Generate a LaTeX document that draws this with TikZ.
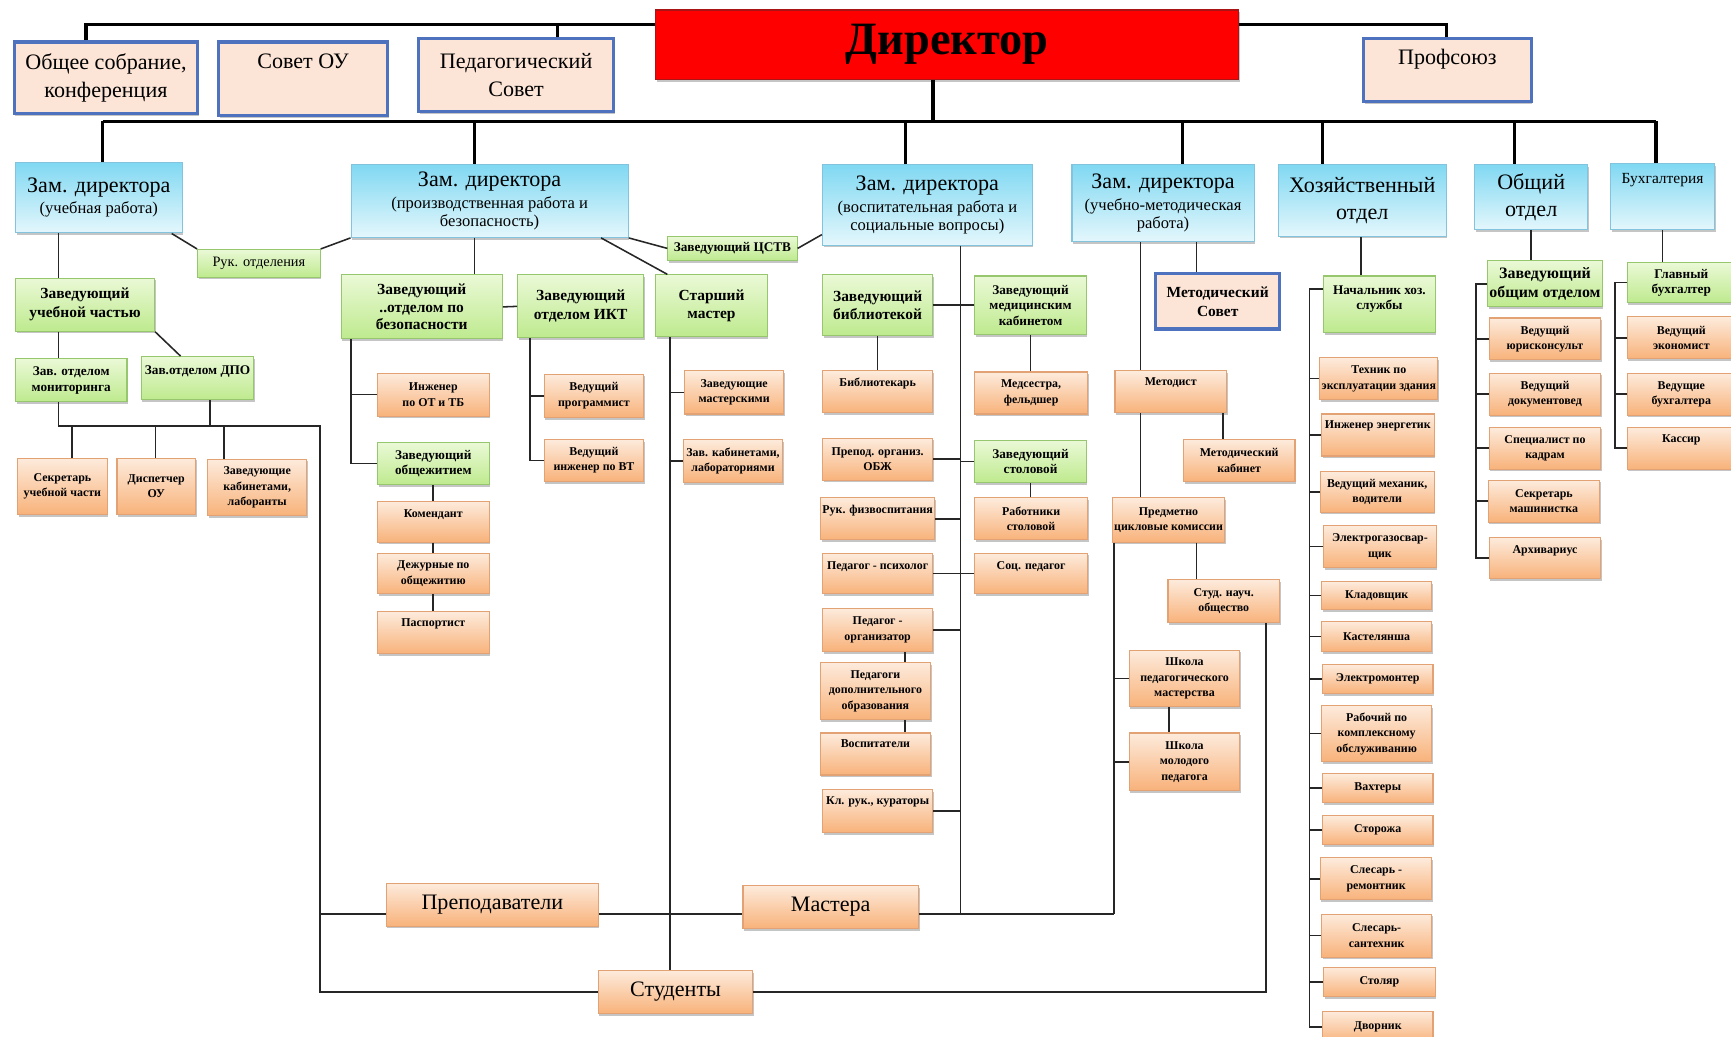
\documentclass[tikz,border=0pt]{standalone}
\usepackage{fontspec}
\setmainfont{Liberation Serif}
\usetikzlibrary{shadows}

\definecolor{peach}{RGB}{252,228,214}
\definecolor{frameblue}{RGB}{79,114,190}
\definecolor{darkred}{RGB}{170,20,20}
\definecolor{bluetop}{RGB}{128,216,242}
\definecolor{bluebot}{RGB}{228,247,252}
\definecolor{blueedge}{RGB}{130,196,222}
\definecolor{greentop}{RGB}{234,249,214}
\definecolor{greenbot}{RGB}{190,234,142}
\definecolor{greenedge}{RGB}{150,198,110}
\definecolor{orangetop}{RGB}{253,235,220}
\definecolor{orangebot}{RGB}{248,178,122}
\definecolor{orangeedge}{RGB}{226,162,116}

\tikzset{
  orgnode/.style={rectangle, align=center, inner sep=0.8pt,
    drop shadow={opacity=0.45, shadow xshift=0.5pt, shadow yshift=-1pt}},
  peachbox/.style={orgnode, fill=peach, draw=frameblue, line width=1.4pt,
    font=\fontsize{10}{12.5}\selectfont},
  redbox/.style={orgnode, fill=red, draw=darkred, line width=0.6pt,
    font=\fontsize{21}{24}\selectfont\bfseries},
  bluebox/.style={orgnode, top color=bluetop, bottom color=bluebot, draw=blueedge,
    line width=0.5pt, font=\fontsize{7.5}{8.2}\selectfont},
  greenbox/.style={orgnode, top color=greentop, bottom color=greenbot, draw=greenedge,
    line width=0.5pt, font=\fontsize{6}{7}\selectfont\bfseries},
  greenbig/.style={greenbox, font=\fontsize{7}{8.5}\selectfont\bfseries},
  orangebox/.style={orgnode, top color=orangetop, bottom color=orangebot, draw=orangeedge,
    line width=0.5pt, font=\fontsize{5.4}{7}\selectfont\bfseries},
  orangebig/.style={orangebox, font=\fontsize{10}{12}\selectfont},
  lift/.style={text depth=#1},
  busline/.style={line width=1.5pt, black},
  link/.style={line width=0.7pt, black!85},
}

\newcommand{\orgbox}[7]{%
  \pgfmathsetmacro{\bcx}{(#3+#5)/2}%
  \pgfmathsetmacro{\bcy}{(#4+#6)/2}%
  \pgfmathsetmacro{\bwd}{(#5-#3)/2}%
  \pgfmathsetmacro{\bht}{(#6-#4)/2}%
  \node[#2, minimum width=\bwd pt, minimum height=\bht pt] (#1) at (\bcx,\bcy) {#7};%
}
\newcommand{\zamtitle}{{\fontsize{10}{12}\selectfont Зам. директора}\\[1.5pt]}

\begin{document}
\begin{tikzpicture}[x=0.5pt,y=-0.5pt]
\fill[white] (0,0) rectangle (1568,939);
\useasboundingbox (0,0) rectangle (1568,939);

\orgbox{sobr}{peachbox}{13}{38}{179}{103}{Общее собрание,\\конференция}
\orgbox{sovet}{peachbox, lift=16pt}{198}{38}{351}{105}{Совет ОУ}
\orgbox{pedsov}{peachbox}{379}{35}{556}{101}{Педагогический\\Совет}
\orgbox{dir}{redbox}{594}{9}{1122}{72}{Директор}
\orgbox{prof}{peachbox, lift=12pt}{1235}{35}{1387}{92}{Профсоюз}

\orgbox{zamU}{bluebox}{14}{147}{165}{211}{\zamtitle(учебная работа)}
\orgbox{zamP}{bluebox}{318}{149}{569}{215}{\zamtitle(производственная работа и\\безопасность)}
\orgbox{zamV}{bluebox}{745}{149}{935}{222}{\zamtitle(воспитательная работа и\\социальные вопросы)}
\orgbox{zamM}{bluebox}{971}{149}{1136}{219}{\zamtitle(учебно-методическая\\работа)}
\orgbox{hoz}{bluebox, font=\fontsize{10}{12.5}\selectfont}{1158}{149}{1310}{214}{Хозяйственный\\отдел}
\orgbox{obsh}{bluebox, font=\fontsize{10}{12.5}\selectfont}{1336}{149}{1438}{208}{Общий\\отдел}
\orgbox{buh}{bluebox, font=\fontsize{7}{8}\selectfont, lift=16pt}{1459}{148}{1553}{208}{Бухгалтерия}

\orgbox{ruk}{greenbox, font=\fontsize{6.5}{7.5}\selectfont}{179}{226}{290}{251}{Рук. отделения}
\orgbox{cstv}{greenbox}{605}{214}{722}{236}{Заведующий ЦСТВ}
\orgbox{uchch}{greenbig}{14}{252}{140}{300}{Заведующий\\учебной частью}
\orgbox{mon}{greenbox}{14}{325}{115}{364}{Зав. отделом\\мониторинга}
\orgbox{dpo}{greenbox, lift=7pt}{128}{323}{230}{362}{Зав.отделом ДПО}
\orgbox{bez}{greenbig, font=\fontsize{7}{8}\selectfont\bfseries}{309}{249}{455}{307}{Заведующий\\..отделом по\\безопасности}
\orgbox{ikt}{greenbig}{469}{249}{583}{306}{Заведующий\\отделом ИКТ}
\orgbox{stm}{greenbig}{594}{249}{695}{305}{Старший\\мастер}
\orgbox{obzh}{greenbox}{342}{401}{443}{439}{Заведующий\\общежитием}
\orgbox{bib}{greenbig}{745}{249}{845}{304}{Заведующий\\библиотекой}
\orgbox{med}{greenbox}{883}{250}{984}{303}{Заведующий\\медицинским\\кабинетом}
\orgbox{stol}{greenbox}{883}{399}{984}{437}{Заведующий\\столовой}
\orgbox{metsov}{peachbox, font=\fontsize{7}{8.5}\selectfont\bfseries}{1047}{248}{1159}{298}{Методический\\Совет}
\orgbox{nach}{greenbox, lift=6pt}{1199}{250}{1300}{301}{Начальник хоз.\\службы}
\orgbox{zavob}{greenbig, font=\fontsize{7.2}{8.5}\selectfont\bfseries}{1349}{236}{1450}{278}{Заведующий\\общим отделом}
\orgbox{glb}{greenbox}{1474}{238}{1572}{274}{Главный\\бухгалтер}

\orgbox{sekr}{orangebox}{16}{415}{97}{466}{Секретарь\\учебной части}
\orgbox{disp}{orangebox}{106}{415}{177}{466}{Диспетчер\\ОУ}
\orgbox{zavkab}{orangebox}{188}{416}{278}{467}{Заведующие\\кабинетами,\\лаборанты}
\orgbox{ingOT}{orangebox}{342}{338}{443}{377}{Инженер\\по ОТ и ТБ}
\orgbox{kom}{orangebox, lift=7pt}{342}{454}{443}{491}{Комендант}
\orgbox{dezh}{orangebox}{342}{501}{443}{538}{Дежурные по\\общежитию}
\orgbox{pasp}{orangebox, lift=9pt}{342}{554}{443}{592}{Паспортист}
\orgbox{prog}{orangebox}{493}{339}{583}{378}{Ведущий\\программист}
\orgbox{ingVT}{orangebox}{493}{398}{583}{436}{Ведущий\\инженер по ВТ}
\orgbox{mastm}{orangebox}{620}{336}{710}{375}{Заведующие\\мастерскими}
\orgbox{kablab}{orangebox}{619}{398}{709}{437}{Зав. кабинетами,\\лабораториями}
\orgbox{bibl}{orangebox, lift=9pt}{745}{336}{845}{374}{Библиотекарь}
\orgbox{medses}{orangebox}{883}{337}{985}{375}{Медсестра,\\фельдшер}
\orgbox{obzhP}{orangebox}{745}{397}{845}{435}{Препод. организ.\\ОБЖ}
\orgbox{fiz}{orangebox, lift=9pt}{745}{451}{845}{489}{Рук. физвоспитания}
\orgbox{rabst}{orangebox}{883}{451}{985}{489}{Работники\\столовой}
\orgbox{psih}{orangebox, lift=7pt}{745}{501}{845}{538}{Педагог - психолог}
\orgbox{soc}{orangebox, lift=7pt}{883}{501}{985}{538}{Соц. педагог}
\orgbox{porg}{orangebox}{745}{551}{845}{590}{Педагог -\\организатор}
\orgbox{pdo}{orangebox}{743}{600}{843}{652}{Педагоги\\дополнительного\\образования}
\orgbox{vosp}{orangebox, lift=9pt}{743}{664}{843}{702}{Воспитатели}
\orgbox{klr}{orangebox, lift=9pt}{745}{715}{845}{754}{Кл. рук., кураторы}
\orgbox{metod}{orangebox, lift=9pt}{1010}{336}{1111}{374}{Методист}
\orgbox{metkab}{orangebox}{1072}{398}{1173}{436}{Методический\\кабинет}
\orgbox{pck}{orangebox}{1008}{451}{1109}{491}{Предметно\\цикловые комиссии}
\orgbox{snoo}{orangebox}{1058}{525}{1159}{564}{Студ. науч.\\общество}
\orgbox{shpm}{orangebox}{1023}{589}{1123}{640}{Школа\\педагогического\\мастерства}
\orgbox{shmp}{orangebox}{1023}{664}{1123}{716}{Школа\\молодого\\педагога}

\orgbox{teh}{orangebox}{1197}{324}{1301}{362}{Техник по\\эксплуатации здания}
\orgbox{energ}{orangebox, lift=9pt}{1197}{375}{1299}{413}{Инженер энергетик}
\orgbox{meh}{orangebox}{1196}{427}{1299}{464}{Ведущий механик,\\водители}
\orgbox{svar}{orangebox}{1199}{476}{1301}{514}{Электрогазосвар-\\щик}
\orgbox{klad}{orangebox}{1197}{527}{1297}{552}{Кладовщик}
\orgbox{kast}{orangebox}{1197}{563}{1297}{590}{Кастелянша}
\orgbox{emont}{orangebox}{1198}{602}{1298}{628}{Электромонтер}
\orgbox{rko}{orangebox}{1197}{639}{1297}{690}{Рабочий по\\комплексному\\обслуживанию}
\orgbox{vaht}{orangebox}{1198}{701}{1298}{727}{Вахтеры}
\orgbox{stor}{orangebox}{1198}{739}{1298}{765}{Сторожа}
\orgbox{slr}{orangebox}{1196}{777}{1297}{815}{Слесарь -\\ремонтник}
\orgbox{sls}{orangebox}{1197}{828}{1297}{867}{Слесарь-\\сантехник}
\orgbox{stolar}{orangebox}{1199}{876}{1300}{903}{Столяр}
\orgbox{dvor}{orangebox}{1198}{916}{1298}{945}{Дворник}

\orgbox{yur}{orangebox}{1349}{288}{1450}{326}{Ведущий\\юрисконсульт}
\orgbox{doc}{orangebox}{1349}{338}{1450}{376}{Ведущий\\документовед}
\orgbox{kadr}{orangebox}{1349}{387}{1450}{425}{Специалист по\\кадрам}
\orgbox{mash}{orangebox}{1348}{435}{1449}{473}{Секретарь\\машинистка}
\orgbox{arh}{orangebox, lift=8pt}{1349}{487}{1450}{524}{Архивариус}
\orgbox{econ}{orangebox}{1474}{287}{1572}{325}{Ведущий\\экономист}
\orgbox{vbuh}{orangebox}{1474}{338}{1572}{376}{Ведущие\\бухгалтера}
\orgbox{kass}{orangebox, lift=9pt}{1474}{387}{1572}{425}{Кассир}

\orgbox{prep}{orangebig}{350}{800}{542}{839}{Преподаватели}
\orgbox{mast}{orangebig}{673}{802}{832}{841}{Мастера}
\orgbox{stud}{orangebig}{542}{879}{682}{918}{Студенты}

\coordinate (bus1) at (0,22);
\coordinate (bus2) at (0,110);
\coordinate (busU) at (0,386);
\coordinate (busPM) at (0,828);
\coordinate (tSobr) at (78,0);
\coordinate (tPed) at (505,0);
\coordinate (tProf) at (1310,0);
\coordinate (tDir) at (845,0);

\draw[busline] (sobr.north -| tSobr) -- (tSobr |- bus1) -- (dir.west |- bus1);
\draw[busline] (pedsov.north -| tPed) -- (tPed |- bus1);
\draw[busline] (dir.east |- bus1) -- (tProf |- bus1) -- (prof.north -| tProf);
\draw[busline] (dir.south -| tDir) -- (tDir |- bus2);
\draw[busline] (93,110) coordinate (b2L) -- (1500,110) coordinate (b2R);
\foreach \nd/\xx in {zamU/93,zamP/430,zamV/820,zamM/1071,hoz/1198,obsh/1372,buh/1500}
{
    \coordinate (drop) at (\xx,110);
    \draw[busline] (drop) -- (drop |- \nd.north);
}

\draw[link] ([xshift=-5pt]zamU.south east) -- (ruk.north west);
\draw[link] (ruk.north east) -- (zamP.south west);
\draw[link] (zamP.south east) -- (cstv.west);
\draw[link] (cstv.east) -- ([yshift=5pt]zamV.south west);
\draw[link] ([xshift=-12.5pt]zamP.south east) -- ([xshift=5.5pt]stm.north west);

\coordinate (tU) at (53,0);
\coordinate (tD) at (190,0);
\coordinate (tL) at (290,0);
\draw[link] (zamU.south -| tU) -- (uchch.north -| tU);
\draw[link] (uchch.south -| tU) -- (mon.north -| tU);
\draw[link] (uchch.south east) -- ([xshift=18pt]dpo.north west);
\draw[link] (mon.south -| tU) -- (tU |- busU) -- (tL |- busU) -- (tL |- stud.west) -- (stud.west);
\draw[link] (dpo.south -| tD) -- (tD |- busU);
\foreach \nd/\xx in {sekr/65,disp/141,zavkab/203}
{
    \coordinate (drop) at (\xx,386);
    \draw[link] (drop) -- (drop |- \nd.north);
}
\draw[link] (tL |- busPM) -- (busPM -| prep.west);
\draw[link] (busPM -| prep.east) -- (busPM -| mast.west);

\coordinate (tP) at (430,0);
\coordinate (tB) at (318,0);
\coordinate (tO) at (392,0);
\coordinate (tI) at (480,0);
\coordinate (tS) at (607,0);
\draw[link] (zamP.south -| tP) -- (bez.north -| tP);
\draw[link] (bez.east) -- (ikt.west);
\draw[link] (bez.south -| tB) -- (tB |- obzh.west) -- (obzh.west);
\draw[link] (tB |- ingOT.west) -- (ingOT.west);
\draw[link] (obzh.south -| tO) -- (kom.north -| tO);
\draw[link] (kom.south -| tO) -- (dezh.north -| tO);
\draw[link] (dezh.south -| tO) -- (pasp.north -| tO);
\draw[link] (ikt.south -| tI) -- (tI |- ingVT.west) -- (ingVT.west);
\draw[link] (tI |- prog.west) -- (prog.west);
\draw[link] (stm.south -| tS) -- (tS |- stud.north);
\draw[link] (tS |- mastm.west) -- (mastm.west);
\draw[link] (tS |- kablab.west) -- (kablab.west);

\coordinate (tV) at (870,0);
\coordinate (tW) at (820,0);
\draw[link] (zamV.south -| tV) -- (tV |- busPM);
\draw[link] (busPM -| mast.east) -- (1009,828) coordinate (tM);
\draw[link] (bib.east) -- (med.west);
\draw[link] (bib.south) -- (bibl.north);
\draw[link] (med.south) -- (medses.north -| med.south);
\foreach \nd in {obzhP,fiz,porg,klr}
{
    \draw[link] (\nd.east) -- (tV |- \nd.east);
}
\draw[link] (tV |- stol.west) -- (stol.west);
\draw[link] (stol.south) -- (rabst.north -| stol.south);
\draw[link] (psih.east) -- (soc.west);
\draw[link] (porg.south -| tW) -- (pdo.north -| tW);
\draw[link] (pdo.south -| tW) -- (vosp.north -| tW);

\coordinate (tM1) at (1033,0);
\coordinate (tM2) at (1084,0);
\coordinate (tK) at (1108,0);
\coordinate (tX) at (1059,0);
\coordinate (tN) at (1147,0);
\draw[link] (zamM.south -| tM2) -- (metsov.north -| tM2);
\draw[link] (zamM.south -| tM1) -- (metod.north -| tM1);
\draw[link] (metod.south -| tM1) -- (pck.north -| tM1);
\draw[link] (metod.south -| tK) -- (metkab.north -| tK);
\draw[link] (pck.south -| tM2) -- (snoo.north -| tM2);
\draw[link] (pck.south -| tM) -- (tM);
\draw[link] (tM |- shpm.west) -- (shpm.west);
\draw[link] (tM |- shmp.west) -- (shmp.west);
\draw[link] (shpm.south -| tX) -- (shmp.north -| tX);
\draw[link] (snoo.south -| tN) -- (tN |- stud.east) -- (stud.east);

\coordinate (tH) at (1233,0);
\coordinate (tH2) at (1186,262);
\draw[link] (hoz.south -| tH) -- (nach.north -| tH);
\draw[link] (tH2 -| nach.west) -- (tH2) -- (tH2 |- dvor.west) -- (dvor.west);
\foreach \nd in {teh,energ,meh,svar,klad,kast,emont,rko,vaht,stor,slr,sls,stolar}
{
    \draw[link] (tH2 |- \nd.west) -- (\nd.west);
}

\coordinate (tG) at (1337,0);
\draw[link] (obsh.south) -- (obsh.south |- zavob.north);
\draw[link] (zavob.west) -- (tG |- zavob.west) -- (tG |- arh.west) -- (arh.west);
\foreach \nd in {yur,doc,kadr,mash}
{
    \draw[link] (tG |- \nd.west) -- (\nd.west);
}

\coordinate (tF) at (1463,0);
\draw[link] (buh.south) -- (buh.south |- glb.north);
\draw[link] (glb.west) -- (tF |- glb.west) -- (tF |- kass.west) -- (kass.west);
\foreach \nd in {econ,vbuh}
{
    \draw[link] (tF |- \nd.west) -- (\nd.west);
}
\end{tikzpicture}
\end{document}
